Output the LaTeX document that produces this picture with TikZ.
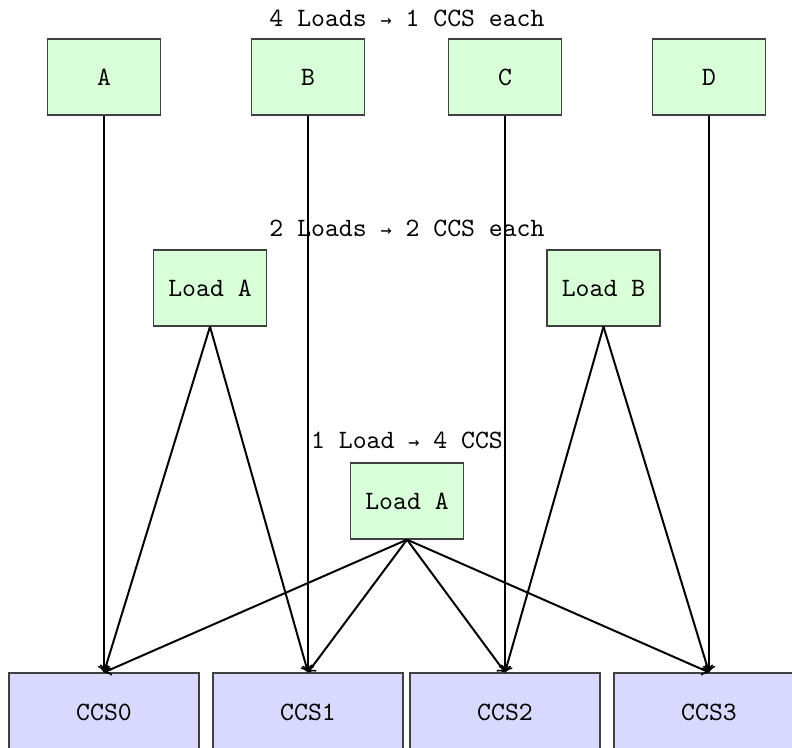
\documentclass[tikz,border=0pt]{standalone}
\usepackage{fontspec}
\newfontfamily\symfont{DejaVu Sans Mono}
\begin{document}
\begin{tikzpicture}[x=0.378pt,y=-0.378pt,
  loadbox/.style={draw=black!75, fill=green!15, line width=0.5pt,
    minimum width=42.7pt, minimum height=28.7pt, font=\ttfamily, inner sep=0pt},
  ccsbox/.style={draw=black!75, fill=blue!15, line width=0.5pt,
    minimum width=71.8pt, minimum height=29.5pt, font=\ttfamily, inner sep=0pt},
  caption/.style={font=\ttfamily, inner sep=0pt},
  link/.style={->, line width=0.75pt}]
\clip (0,0) rectangle (792,747);
\useasboundingbox (0,0) rectangle (792,747);

% group headings
\node[caption] (t1) at (407,18) {4 Loads {\symfont\scriptsize →} 1 CCS each};
\node[caption] (t2) at (407,228) {2 Loads {\symfont\scriptsize →} 2 CCS each};
\node[caption] (t3) at (407,440) {1 Load {\symfont\scriptsize →} 4 CCS};

% consumers
\node[ccsbox] (c0) at (104,712) {CCS0};
\node[ccsbox] (c1) at (308,712) {CCS1};
\node[ccsbox] (c2) at (505,712) {CCS2};
\node[ccsbox] (c3) at (709,712) {CCS3};

% four loads, one consumer each
\node[loadbox] (a) at (104,77) {A};
\node[loadbox] (b) at (308,77) {B};
\node[loadbox] (c) at (505,77) {C};
\node[loadbox] (d) at (709,77) {D};

% two loads, two consumers each
\node[loadbox] (la) at (210,288) {Load A};
\node[loadbox] (lb) at (603.5,288) {Load B};

% one load, four consumers
\node[loadbox] (l1) at (407,501) {Load A};

\draw[link] (a.south) -- (c0.north);
\draw[link] (b.south) -- (c1.north);
\draw[link] (c.south) -- (c2.north);
\draw[link] (d.south) -- (c3.north);

\draw[link] (la.south) -- (c0.north);
\draw[link] (la.south) -- (c1.north);
\draw[link] (lb.south) -- (c2.north);
\draw[link] (lb.south) -- (c3.north);

\foreach \t in {c0,c1,c2,c3}
  \draw[link] (l1.south) -- (\t.north);
\end{tikzpicture}
\end{document}
